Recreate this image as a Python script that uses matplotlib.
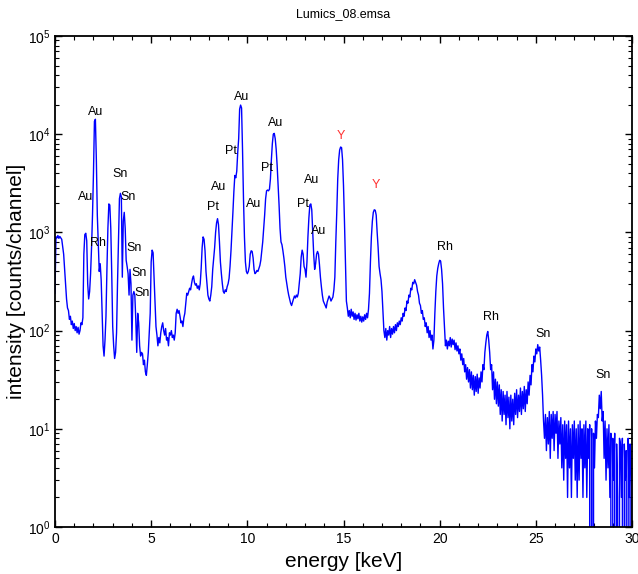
import numpy as np
import matplotlib

matplotlib.use("Agg")
import matplotlib.pyplot as plt
from matplotlib.ticker import MultipleLocator, LogLocator, NullFormatter

plt.rcParams["font.family"] = ["Liberation Sans", "DejaVu Sans"]
plt.rcParams["mathtext.fontset"] = "custom"
plt.rcParams["mathtext.rm"] = "Liberation Sans"
plt.rcParams["mathtext.it"] = "Liberation Sans:italic"

# spectrum, one value every 0.05 keV starting at 0 keV
channel_width_kev = 0.05
counts = [
    240, 900, 880, 930, 870, 910, 880, 850, 720, 600,
    420, 300, 210, 170, 160, 130, 140, 115, 125, 105,
    118, 100, 110, 95, 108, 92, 100, 120, 115, 135,
    600, 950, 980, 820, 300, 210, 250, 380, 700, 1500,
    4000, 13500, 14200, 5500, 1500, 800, 400, 480, 330, 150,
    70, 55, 80, 140, 420, 1100, 1950, 1900, 1100, 380,
    110, 70, 52, 60, 95, 300, 800, 2200, 2500, 2300,
    350, 1300, 1600, 1100, 520, 450, 380, 230, 420, 300,
    80, 230, 250, 230, 130, 60, 150, 120, 70, 55,
    60, 58, 45, 50, 38, 35, 45, 60, 95, 150,
    500, 660, 620, 350, 200, 110, 90, 70, 85, 75,
    95, 110, 120, 100, 90, 105, 80, 85, 70, 95,
    90, 100, 85, 90, 80, 95, 150, 165, 150, 160,
    140, 120, 125, 110, 135, 150, 190, 240, 230, 250,
    270, 260, 300, 340, 360, 310, 290, 300, 270, 285,
    260, 300, 430, 700, 900, 850, 650, 400, 300, 230,
    210, 200, 230, 280, 420, 550, 700, 1000, 1250, 1380,
    1200, 800, 500, 380, 300, 250, 240, 260, 250, 280,
    300, 340, 450, 650, 1000, 1600, 2600, 3800, 3600, 4200,
    6500, 9000, 18000, 19800, 18500, 7000, 2200, 900, 500, 400,
    380, 400, 450, 600, 650, 640, 550, 420, 380, 390,
    410, 400, 430, 460, 520, 650, 800, 1100, 1500, 2200,
    2650, 2700, 2650, 2750, 3500, 5500, 8000, 10000, 10200, 9000,
    7000, 4800, 3000, 1900, 1100, 800, 750, 650, 550, 450,
    350, 300, 260, 230, 210, 190, 180, 195, 210, 225,
    215, 230, 220, 240, 300, 380, 560, 660, 600, 450,
    420, 350, 500, 900, 1400, 1900, 1950, 1700, 1000, 600,
    420, 480, 600, 640, 600, 470, 350, 280, 230, 200,
    190, 180, 170, 195, 210, 225, 215, 200, 210, 220,
    260, 350, 800, 1600, 3500, 5500, 6900, 7400, 7300, 5500,
    3000, 1300, 500, 200, 170, 140, 160, 135, 165, 140,
    155, 130, 150, 128, 145, 132, 150, 125, 140, 122,
    138, 125, 145, 130, 150, 135, 165, 240, 500, 900,
    1300, 1600, 1700, 1680, 1500, 1000, 700, 450, 380, 330,
    250, 160, 100, 85, 105, 80, 100, 90, 110, 85,
    105, 92, 110, 95, 115, 100, 120, 110, 125, 115,
    135, 125, 150, 140, 170, 160, 200, 190, 230, 220,
    270, 260, 310, 300, 330, 310, 290, 250, 230, 190,
    180, 150, 160, 130, 135, 110, 120, 95, 110, 85,
    100, 80, 90, 65, 80, 150, 250, 360, 430, 480,
    520, 510, 420, 300, 170, 110, 70, 80, 65, 78,
    70, 85, 68, 82, 72, 80, 64, 75, 62, 70,
    58, 65, 50, 58, 45, 52, 38, 45, 32, 42,
    30, 40, 26, 38, 25, 35, 22, 34, 24, 36,
    23, 33, 26, 38, 30, 45, 40, 60, 75, 90,
    98, 80, 60, 40, 45, 25, 38, 20, 32, 18,
    30, 17, 28, 14, 25, 12, 24, 14, 22, 11,
    24, 13, 21, 10, 22, 12, 20, 11, 23, 14,
    25, 13, 22, 15, 26, 14, 24, 16, 27, 15,
    25, 18, 30, 22, 35, 28, 45, 38, 55, 48,
    65, 58, 72, 62, 68, 50, 35, 22, 12, 8,
    14, 6, 13, 7, 15, 5, 14, 8, 15, 6,
    14, 9, 15, 5, 12, 7, 13, 4, 11, 3,
    12, 5, 11, 2, 12, 4, 10, 2, 11, 5,
    12, 3, 10, 2, 11, 3, 12, 5, 10, 2,
    11, 4, 12, 2, 10, 5, 11, 0, 10, 0,
    9, 4, 12, 8, 14, 13, 22, 16, 24, 12,
    15, 5, 12, 3, 10, 4, 11, 2, 9, 0,
    8, 3, 9, 0, 7, 2, 0, 8, 7, 2,
    8, 0, 7, 3, 6, 0, 8, 2, 7, 0,
    6,
]

# peak labels: element, energy [keV], height [counts]
label_names = ["Au", "Au", "Rh", "Sn", "Sn", "Sn", "Sn", "Sn",
               "Pt", "Au", "Pt", "Au", "Au", "Pt", "Au",
               "Pt", "Au", "Au", "Y", "Y", "Rh", "Rh", "Sn", "Sn"]
label_energy = [2.13, 1.61, 2.24, 3.38, 3.80, 4.11, 4.37, 4.55,
                8.22, 8.49, 9.15, 9.69, 10.31, 11.02, 11.48,
                12.90, 13.36, 13.71, 14.86, 16.69, 20.26, 22.66, 25.37, 28.50]
label_height = [16800, 2310, 774, 3935, 2310, 689, 389, 240,
                1830, 2880, 6790, 24100, 1946, 4500, 12900,
                1930, 3420, 1040, 9580, 3040, 705, 137, 92, 35]
label_colors = ["black"] * 18 + ["#ff3030", "#ff3030"] + ["black"] * 4

energy = np.arange(len(counts)) * channel_width_kev

fig = plt.figure(figsize=(6.38, 5.74), dpi=100)
ax = fig.add_axes([55 / 638, 1 - 527 / 574, 577 / 638, 491 / 574])

ax.plot(energy, counts, color="#0000ff", linewidth=1.0)
ax.set_yscale("log", nonpositive="clip")
ax.set_xlim(0, 30)
ax.set_ylim(1, 1e5)

for name, e, h, c in zip(label_names, label_energy, label_height, label_colors):
    ax.text(e, h, name, ha="center", va="center", fontsize=9, color=c)

ax.xaxis.set_major_locator(MultipleLocator(5))
ax.xaxis.set_minor_locator(MultipleLocator(1))
ax.yaxis.set_minor_locator(LogLocator(base=10, subs=np.arange(2, 10), numticks=20))
ax.yaxis.set_minor_formatter(NullFormatter())
ax.tick_params(which="both", direction="in", top=True, right=True, labelsize=10)
ax.tick_params(which="major", length=5, width=1)
ax.tick_params(which="minor", length=3, width=0.8)
for s in ax.spines.values():
    s.set_linewidth(1.3)

ax.set_xlabel("energy [keV]", fontsize=15)
ax.set_ylabel("intensity [counts/channel]", fontsize=15)
ax.xaxis.label.set_verticalalignment("center")
ax.yaxis.label.set_verticalalignment("center")
ax.xaxis.set_label_coords(0.5, -0.071)
ax.yaxis.set_label_coords(-0.066, 0.5)

fig.text((55 + 632) / 2 / 638, 1 - 14 / 574, "Lumics_08.emsa", ha="center", va="center", fontsize=9)

fig.savefig("out.png", dpi=100)
plt.close(fig)
